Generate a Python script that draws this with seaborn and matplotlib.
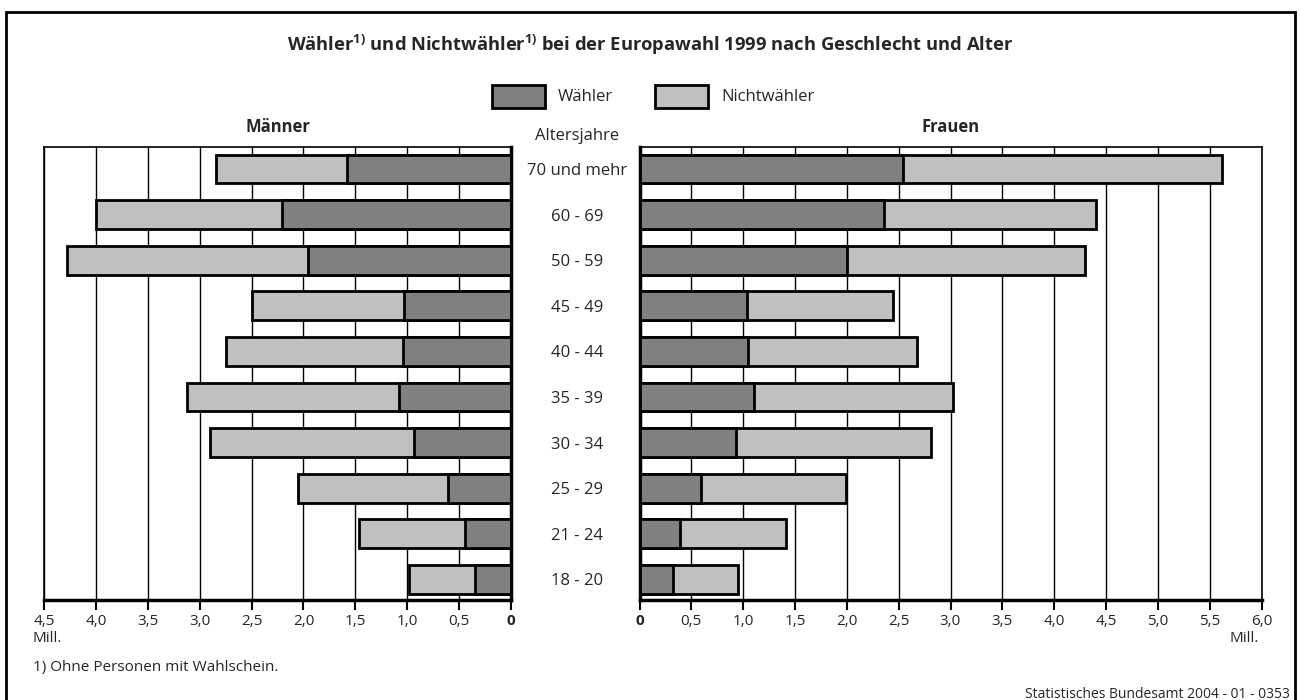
import matplotlib
matplotlib.use("Agg")
import matplotlib.pyplot as plt
import matplotlib.patches as mpatches
from matplotlib import font_manager
import seaborn as sns
import pandas as pd

# data (Mill.)
altersgruppen = ["70 und mehr", "60 - 69", "50 - 59", "45 - 49", "40 - 44",
                 "35 - 39", "30 - 34", "25 - 29", "21 - 24", "18 - 20"]
maenner_waehler = [1.58, 2.21, 1.96, 1.03, 1.04, 1.08, 0.93, 0.61, 0.44, 0.35]
maenner_nichtwaehler = [1.26, 1.79, 2.32, 1.47, 1.71, 2.04, 1.97, 1.44, 1.02, 0.63]
frauen_waehler = [2.54, 2.36, 2.00, 1.04, 1.05, 1.10, 0.93, 0.59, 0.39, 0.32]
frauen_nichtwaehler = [3.08, 2.04, 2.30, 1.41, 1.63, 1.92, 1.88, 1.40, 1.02, 0.63]

ticks_left = [4.5, 4.0, 3.5, 3.0, 2.5, 2.0, 1.5, 1.0, 0.5, 0.0]
ticks_right = [0.0, 0.5, 1.0, 1.5, 2.0, 2.5, 3.0, 3.5, 4.0, 4.5, 5.0, 5.5, 6.0]

DARK = "#808080"
LIGHT = "#c0c0c0"

sns.set_style("white")
installed = {f.name for f in font_manager.fontManager.ttflist}
family = [f for f in ["Open Sans", "DejaVu Sans"] if f in installed]
plt.rcParams["font.family"] = family
plt.rcParams["mathtext.fontset"] = "custom"
plt.rcParams["mathtext.rm"] = family[0]
plt.rcParams["mathtext.bf"] = family[0] + ":bold"

df_m = pd.DataFrame({"alter": altersgruppen, "w": maenner_waehler,
                     "total": [a + b for a, b in zip(maenner_waehler, maenner_nichtwaehler)]})
df_f = pd.DataFrame({"alter": altersgruppen, "w": frauen_waehler,
                     "total": [a + b for a, b in zip(frauen_waehler, frauen_nichtwaehler)]})

fig = plt.figure(figsize=(13, 7), dpi=100)
ax_l = fig.add_axes([44 / 1300, 1 - 600 / 700, 467 / 1300, 453 / 700])
ax_r = fig.add_axes([639.5 / 1300, 1 - 600 / 700, 622 / 1300, 453 / 700])


def draw_panel(ax, df):
    bar_kw = dict(y="alter", orient="h", width=0.63, edgecolor="black",
                  linewidth=2, ax=ax, order=altersgruppen, zorder=3)
    sns.barplot(data=df, x="total", color=LIGHT, saturation=1, **bar_kw)
    sns.barplot(data=df, x="w", color=DARK, saturation=1, **bar_kw)
    ax.set_ylim(9.45, -0.48)
    ax.set_xlabel("")
    ax.set_ylabel("")
    ax.grid(axis="x", color="black", linewidth=1, zorder=0)
    ax.set_axisbelow(True)
    ax.tick_params(axis="x", direction="out", length=7, width=1.5,
                   color="black", labelsize=11, pad=3, bottom=True)
    for sp in ax.spines.values():
        sp.set_color("black")
        sp.set_linewidth(1.2)
        sp.set_visible(True)
    ax.spines["bottom"].set_linewidth(2.5)


def fmt(v):
    return "0" if v == 0 else f"{v:.1f}".replace(".", ",")


draw_panel(ax_l, df_m)
ax_l.set_xlim(4.5, 0)
ax_l.set_xticks(ticks_left)
ax_l.set_xticklabels([fmt(v) for v in ticks_left])
ax_l.spines["right"].set_linewidth(2.5)
ax_l.set_yticks([])

draw_panel(ax_r, df_f)
ax_r.set_xlim(0, 6)
ax_r.set_xticks(ticks_right)
ax_r.set_xticklabels([fmt(v) for v in ticks_right])
ax_r.spines["left"].set_linewidth(2.5)
ax_r.tick_params(axis="y", length=0, pad=45, labelsize=12)
for lab in ax_r.get_yticklabels():
    lab.set_ha("center")

for ax in (ax_l, ax_r):
    for lab in ax.get_xticklabels():
        if lab.get_text() == "0":
            lab.set_fontweight("bold")

# texts
sup = r"$^{\mathbf{1)}}$"
fig.text(0.5, 1 - 45 / 700, f"Wähler{sup} und Nichtwähler{sup} bei der Europawahl 1999 nach Geschlecht und Alter",
         ha="center", va="center", fontsize=13.2, fontweight="bold")
fig.text(278 / 1300, 1 - 127 / 700, "Männer", ha="center", va="center", fontsize=12, fontweight="bold")
fig.text(951 / 1300, 1 - 127 / 700, "Frauen", ha="center", va="center", fontsize=12, fontweight="bold")
fig.text(577 / 1300, 1 - 136 / 700, "Altersjahre", ha="center", va="center", fontsize=12)
fig.text(33 / 1300, 1 - 639 / 700, "Mill.", ha="left", va="center", fontsize=11)
fig.text(1259 / 1300, 1 - 639 / 700, "Mill.", ha="right", va="center", fontsize=11)
fig.text(33 / 1300, 1 - 668 / 700, "1) Ohne Personen mit Wahlschein.", ha="left", va="center", fontsize=11)
fig.text(1290 / 1300, 1 - 694 / 700, "Statistisches Bundesamt 2004 - 01 - 0353", ha="right",
         va="center", fontsize=10)

# legend
for x0, col, label in [(492, DARK, "Wähler"), (655, LIGHT, "Nichtwähler")]:
    fig.patches.append(mpatches.Rectangle((x0 / 1300, 1 - 108 / 700), 53 / 1300, 23 / 700,
                                          transform=fig.transFigure, facecolor=col,
                                          edgecolor="black", linewidth=2))
    fig.text((x0 + 66) / 1300, 1 - 97 / 700, label, ha="left", va="center", fontsize=12)

# outer frame
fig.patches.append(mpatches.Rectangle((6 / 1300, -0.05), 1289 / 1300, 1.05 - 12 / 700,
                                      transform=fig.transFigure, facecolor="none",
                                      edgecolor="black", linewidth=2))

fig.savefig("out.png", dpi=100)
